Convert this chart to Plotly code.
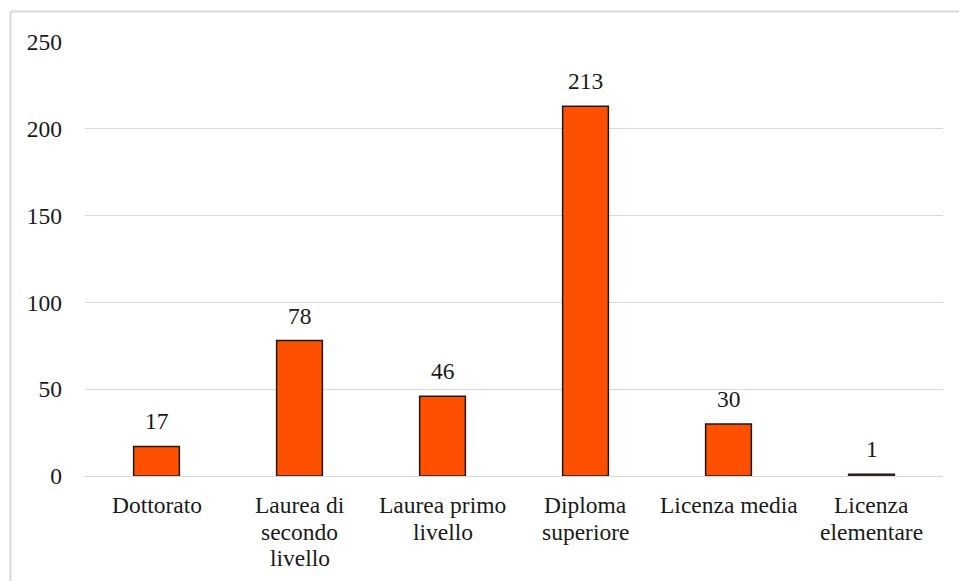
import plotly.graph_objects as go

categories = ["Dottorato", "Laurea di<br>secondo<br>livello", "Laurea primo<br>livello",
              "Diploma<br>superiore", "Licenza media", "Licenza<br>elementare"]
values = [17, 78, 46, 213, 30, 1]
y_ticks = [0, 50, 100, 150, 200, 250]

FONT = "Liberation Serif, Times New Roman, serif"
FS = 23.5
TXT = "#1a1a1a"

fig = go.Figure()
fig.add_trace(go.Bar(
    x=categories, y=values,
    marker=dict(color="#FF5000", line=dict(color="#1a1a1a", width=1.5)),
    width=0.32,
    hoverinfo="y",
))

# value labels above bars
for c, v in zip(categories, values):
    fig.add_annotation(x=c, y=v, text=str(v), showarrow=False,
                       yanchor="middle", yshift=25,
                       font=dict(family=FONT, size=FS, color=TXT))

# category labels (tighter line spacing than Plotly's default)
for c in categories:
    for i, line in enumerate(c.split("<br>")):
        fig.add_annotation(x=c, y=0, text=line, showarrow=False,
                           yanchor="middle", yshift=-(29 + 26.5 * i),
                           font=dict(family=FONT, size=FS, color=TXT))

# outer border (left and top visible)
L, R, T, B = 85, 943, 42, 476
pw, ph = R - L, B - T
def px(x): return (x - L) / pw
def py(y): return (B - y) / ph
line_style = dict(color="#d9d9d9", width=2)
fig.add_shape(type="line", xref="paper", yref="paper",
              x0=px(10.5), x1=px(10.5), y0=py(581), y1=py(11.5), line=line_style)
fig.add_shape(type="line", xref="paper", yref="paper",
              x0=px(10.5), x1=px(965), y0=py(11.5), y1=py(11.5), line=line_style)

fig.update_layout(
    width=959, height=581,
    margin=dict(l=L, r=959 - R, t=T, b=581 - B),
    paper_bgcolor="white", plot_bgcolor="white",
    showlegend=False,
    font=dict(family=FONT, size=FS, color=TXT),
    xaxis=dict(showgrid=False, showline=False, ticks="", showticklabels=False),
    yaxis=dict(range=[0, 250], tickvals=y_ticks, showgrid=True, gridcolor="#d9d9d9",
               gridwidth=1, zeroline=True, zerolinecolor="#d9d9d9", zerolinewidth=1,
               showline=False, ticks="", tickfont=dict(family=FONT, size=FS, color=TXT),
               ticklabelstandoff=22),
)

fig.write_html("out.html")
